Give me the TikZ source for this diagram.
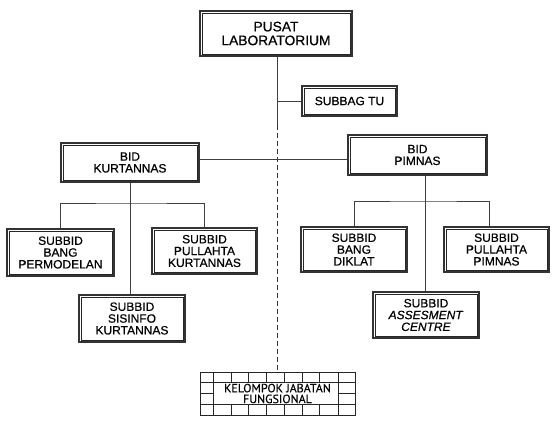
\documentclass[tikz,border=0pt]{standalone}
\usepackage{fontspec}
\setmainfont{Liberation Sans}
\newfontfamily\boxfont{Liberation Sans}[FakeBold=0.6,ItalicFont=Liberation Sans Italic,ItalicFeatures={FakeBold=0.6}]
\newfontfamily\kelfont{PT Sans}[FakeBold=0.4]
\begin{document}
\begin{tikzpicture}[x=1pt,y=-1pt,
  box/.style={draw=black!80, line width=2.2pt, fill=white, align=center, inner sep=0pt,
    font=\boxfont\fontsize{12}{11.8}\selectfont},
  inbox/.style={draw=black!85, line width=0.6pt},
  conn/.style={draw=black!75, line width=0.8pt},
  dconn/.style={draw=black!80, line width=0.9pt, dash pattern=on 5pt off 3pt},
  grid/.style={draw=black!85, line width=0.6pt}]
\useasboundingbox (0,0) rectangle (560,429);

% nodes
\node[box, minimum width=152, minimum height=45, font=\boxfont\fontsize{13.8}{13.8}\selectfont] (pusat) at (276,33.5) {PUSAT\\LABORATORIUM};
\node[box, minimum width=95, minimum height=30] (subbag) at (349.5,101) {SUBBAG TU};
\node[box, minimum width=138, minimum height=39] (kurt) at (130,162.5) {BID\\KURTANNAS};
\node[box, minimum width=139, minimum height=40] (pimnas) at (417.5,155) {BID\\PIMNAS};
\node[box, minimum width=107, minimum height=47] (permod) at (60.5,252.5) {SUBBID\\BANG\\PERMODELAN};
\node[box, minimum width=105, minimum height=46] (pullk) at (204.5,251) {SUBBID\\PULLAHTA\\KURTANNAS};
\node[box, minimum width=106, minimum height=47] (sisinfo) at (132,318.5) {SUBBID\\SISINFO\\KURTANNAS};
\node[box, minimum width=106, minimum height=45] (diklat) at (354,249.5) {SUBBID\\BANG\\DIKLAT};
\node[box, minimum width=105, minimum height=45] (pullp) at (496.5,249.5) {SUBBID\\PULLAHTA\\PIMNAS};
\node[box, minimum width=106, minimum height=46] (assess) at (426,315) {SUBBID\\\textit{ASSESMENT}\\\textit{CENTRE}};
\node[minimum width=155, minimum height=43, inner sep=0pt, align=center,
  font=\kelfont\fontsize{12}{10.8}\selectfont] (kel) at (277.5,393.5) {KELOMPOK JABATAN\\FUNGSIONAL};

% inner lines of double borders
\foreach \n in {pusat,subbag,kurt,pimnas,permod,pullk,sisinfo,diklat,pullp,assess}
  \draw[inbox] ([xshift=3.2pt,yshift=-3.2pt]\n.north west) rectangle ([xshift=-3.2pt,yshift=3.2pt]\n.south east);

% coordinates
\coordinate (mid) at (277,125);
\coordinate (hb) at (277,159);
\coordinate (hk) at (130,203);
\coordinate (hp) at (425,201);
\coordinate (pp) at (489,226);

% connectors
\draw[conn] (pusat.south -| mid) -- (mid);
\draw[dconn] (mid) -- (mid |- kel.north);
\draw[conn] (mid |- subbag.west) -- (subbag.west);
\draw[conn] (kurt.east |- hb) -- (pimnas.west |- hb);
\draw[conn] (kurt.south) -- (kurt.south |- sisinfo.north);
\draw[conn] (permod.north) |- (hk) -| (pullk.north);
\draw[conn] (hp |- pimnas.south) -- (hp |- assess.north);
\draw[conn] (diklat.north) |- (hp) -| (pp);

% brick grid of the functional group box
\draw[grid] (kel.north west) rectangle (kel.south east);
\draw[grid] (200,382) -- (355,382);
\draw[grid] (200,404) -- (355,404);
\draw[grid] (213,382) -- (213,404);
\draw[grid] (338,382) -- (338,404);
\draw[grid] (200,393) -- (213,393);
\draw[grid] (338,393) -- (355,393);
\foreach \x in {213,231,248,266,284,302,319,338} {
  \draw[grid] (\x,372) -- (\x,382);
  \draw[grid] (\x,404) -- (\x,415);
}
\end{tikzpicture}
\end{document}
